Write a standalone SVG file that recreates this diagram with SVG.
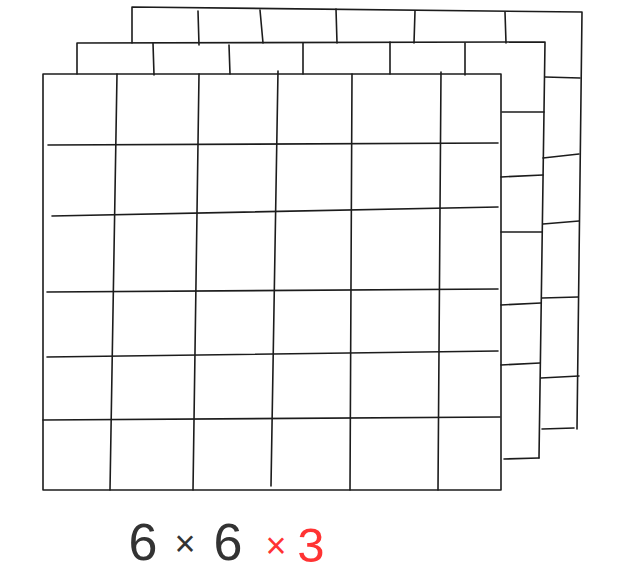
<svg xmlns="http://www.w3.org/2000/svg" width="617" height="578" viewBox="0 0 617 578">
<style>
.ln{fill:none;stroke:#1c1c1c;stroke-width:1.6;stroke-linecap:round;stroke-linejoin:round}
.t{font-family:"Liberation Sans",Arial,sans-serif;font-weight:normal;text-anchor:middle}
.dk{fill:#333333}
.rd{fill:#ff3333}
</style>
<rect width="617" height="578" fill="#ffffff"/>
<g id="back-grid" class="ln">
<path d="M132,43 L132,7 L582,12 L577,429"/>
<path d="M198,11 L199,45 M260,10 L263,43 M336,9 L337,43 M415,11 L414,43 M505,12 L506,43"/>
<path d="M545,77 L580,78 M543,158 L579,154 M543,224 L579,221 M542,298 L578,297 M541,378 L579,376 M542,429 L574,428"/>
</g>
<g id="middle-grid" class="ln">
<path d="M77,74 L77,43 L545,42 L539,458"/>
<path d="M153,43 L154,75 M229,45 L230,74 M303,43 L303,74 M390,42 L390,74 M465,43 L465,75"/>
<path d="M502,112 L544,112 M501,177 L543,175 M501,232 L542,232 M501,305 L541,303 M501,365 L540,363 M504,459 L539,458"/>
</g>
<g id="front-grid" class="ln">
<path d="M43,74 L501,74 L501,490 L43,490 Z"/>
<path d="M117,74 L110,490 M199,74 L193,490 M278,71 L271,486 M352,74 L350,490 M441,72 L438,490"/>
<path d="M48,145 L498,143 M52,216 L498,207 M47,292 L498,289 M47,357 L498,351 M43,420 L500,417"/>
</g>
<g id="label">
<text class="t dk" x="143" y="560" font-size="52">6</text>
<text class="t dk" x="185" y="556" font-size="36">×</text>
<text class="t dk" x="228" y="560" font-size="52">6</text>
<text class="t rd" x="276" y="558" font-size="36">×</text>
<text class="t rd" x="311" y="562" font-size="49">3</text>
</g>
</svg>
